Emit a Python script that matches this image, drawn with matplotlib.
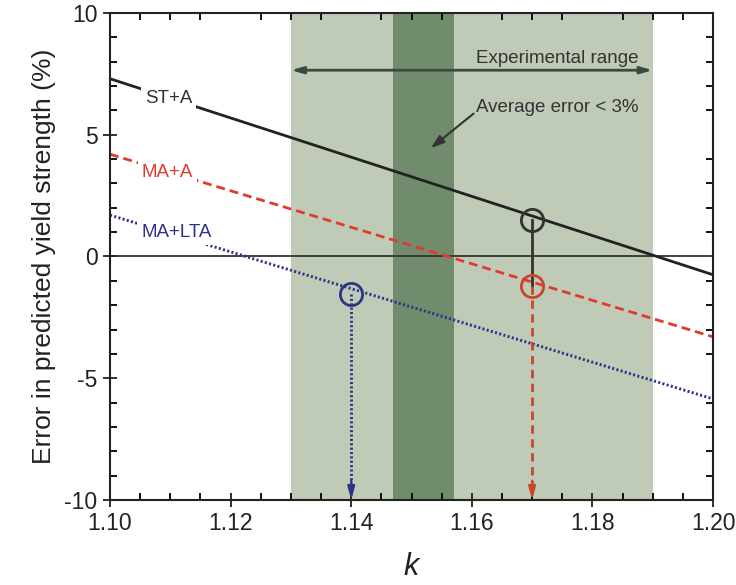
import numpy as np
import matplotlib.pyplot as plt
from matplotlib.ticker import MultipleLocator

plt.rcParams['font.family'] = ['Liberation Sans', 'DejaVu Sans']
plt.rcParams['axes.unicode_minus'] = False

# end points of the three straight lines (k, error %)
k_ends = [1.10, 1.20]
st_a = [7.3, -0.75]
ma_a = [4.2, -3.3]
ma_lta = [1.7, -5.85]

# highlighted points
pt_k = [1.17, 1.17, 1.14]
pt_err = [1.5, -1.2, -1.55]

exp_range = [1.13, 1.19]
avg_range = [1.147, 1.157]

c_black = '#222222'
c_red = '#e23a2c'
c_blue = '#2c3388'
c_red_pt = '#c9462c'
c_blue_pt = '#2b3680'

fig = plt.figure(figsize=(7.36, 5.85), dpi=100)
ax = fig.add_axes([0.1495, 0.1453, 0.8193, 0.8325])

ax.axvspan(exp_range[0], exp_range[1], color='#bfcab7', lw=0, zorder=0)
ax.axvspan(avg_range[0], avg_range[1], color='#708c6c', lw=0, zorder=0)

ax.axhline(0, color='#333333', lw=1.3, zorder=1)

ax.plot(k_ends, st_a, color=c_black, lw=2, zorder=2)
ax.plot(k_ends, ma_a, color=c_red, lw=2, ls=(0, (3.2, 1.8)), zorder=2)
ax.plot(k_ends, ma_lta, color=c_blue, lw=2.1, ls=(0, (0.7, 0.8)), zorder=2)

lab_kw = dict(fontsize=13.5, ha='center', va='center', zorder=3,
              bbox=dict(facecolor='white', edgecolor='none', pad=3))
ax.text(1.1097, 6.5, 'ST+A', color='#333333', **lab_kw)
ax.text(1.1095, 3.45, 'MA+A', color=c_red, **lab_kw)
ax.text(1.1110, 1.0, 'MA+LTA', color=c_blue, **lab_kw)

# vertical connector between ST+A and MA+A points
ax.plot([pt_k[0], pt_k[1]], [pt_err[0], pt_err[1]], color='#333333', lw=2, zorder=3)

# drop arrows to the k axis
ax.plot([pt_k[1], pt_k[1]], [pt_err[1], -9.3], color=c_red_pt, lw=2,
        ls=(0, (3, 2)), zorder=3)
ax.plot([pt_k[2], pt_k[2]], [pt_err[2], -9.3], color=c_blue_pt, lw=2.1,
        ls=(0, (0.7, 0.8)), zorder=3)
for kk, cc in [(pt_k[1], c_red_pt), (pt_k[2], c_blue_pt)]:
    ax.annotate('', xy=(kk, -10), xytext=(kk, -9.2),
                arrowprops=dict(arrowstyle='-|>,head_length=0.8,head_width=0.22',
                                color=cc, lw=1.5, shrinkA=0, shrinkB=0), zorder=4)

for kk, ee, cc in zip(pt_k, pt_err, ['#333333', c_red_pt, c_blue_pt]):
    ax.plot(kk, ee, 'o', ms=16, mfc='none', mec=cc, mew=2, zorder=5)

# experimental range double arrow
ax.annotate('', xy=(exp_range[0], 7.65), xytext=(exp_range[1], 7.65),
            arrowprops=dict(arrowstyle='<|-|>,head_length=0.7,head_width=0.2',
                            color='#3a4a42', lw=2, shrinkA=0, shrinkB=0))
ax.text(1.1877, 8.15, 'Experimental range', fontsize=13.5, color='#333333',
        ha='right', va='center')

ax.annotate('Average error < 3%', xy=(1.1532, 4.45), xytext=(1.1877, 6.1),
            fontsize=13.5, color='#333333', ha='right', va='center',
            arrowprops=dict(arrowstyle='-|>,head_length=0.6,head_width=0.2',
                            color='#333333', lw=1.5, shrinkA=0, shrinkB=0,
                            relpos=(0, 0.3)))

ax.set_xlim(1.10, 1.20)
ax.set_ylim(-10, 10)
ax.xaxis.set_major_locator(MultipleLocator(0.02))
ax.xaxis.set_minor_locator(MultipleLocator(0.005))
ax.yaxis.set_major_locator(MultipleLocator(5))
ax.yaxis.set_minor_locator(MultipleLocator(1))
ax.xaxis.set_major_formatter(plt.FormatStrFormatter('%.2f'))

ax.tick_params(which='major', direction='inout', length=10, width=1.3,
               labelsize=16.5, colors='#222222', pad=4)
ax.tick_params(which='minor', direction='in', length=5, width=1.3)
ax.tick_params(which='both', top=True, right=True)
ax.tick_params(axis='x', which='major', top=False)
ax.tick_params(axis='y', which='major', right=False)
for s in ax.spines.values():
    s.set_linewidth(1.5)
    s.set_color('#222222')

ax.set_ylabel('Error in predicted yield strength (%)', fontsize=19, color='#222222',
              labelpad=6)
ax.set_xlabel('k', fontsize=22, style='italic', color='#222222', labelpad=12)

fig.savefig('out.png', dpi=100)
